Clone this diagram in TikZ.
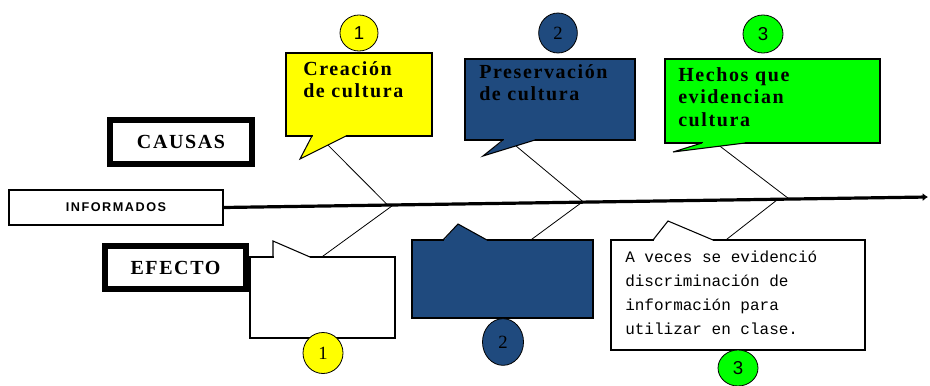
\documentclass[tikz,border=0pt]{standalone}
\usepackage{fontspec}
\setmainfont{Liberation Serif}
\setsansfont{Liberation Sans}
\setmonofont{Liberation Mono}
\usetikzlibrary{calc,positioning,shapes.geometric,arrows.meta}
\definecolor{ishYellow}{HTML}{FFFF00}
\definecolor{ishNavy}{HTML}{1F4A7E}
\definecolor{ishGreen}{HTML}{00FF00}
\newfontfamily\titlefont[LetterSpace=8]{Liberation Serif}
\newfontfamily\capsfont[LetterSpace=12]{Liberation Sans}

\begin{document}
\begin{tikzpicture}[x=0.75pt,y=-0.75pt,
  box/.style 2 args={draw,inner sep=0pt,line width=0.8pt,
            minimum width=#1*0.75pt,minimum height=#2*0.75pt},
  head/.style={line width=4.5pt,font=\titlefont\fontsize{15}{18}\selectfont\bfseries},
  ttl/.style={anchor=north west,inner sep=0pt,align=left,
            font=\titlefont\fontsize{15}{17}\selectfont\bfseries},
  num/.style={ellipse,draw,inner sep=0pt,line width=0.6pt,
            font=\sffamily\fontsize{14}{14}\selectfont},
  bone/.style={line width=0.6pt},
  tail/.style={line width=0.8pt}]
  \useasboundingbox (0,0) rectangle (930,385);

  % spine
  \node[box={214}{35},font=\capsfont\fontsize{9.5}{9.5}\selectfont\bfseries] (inf) at (116,207.5) {INFORMADOS};
  \coordinate (tip) at (928,197);
  \draw[line width=2.4pt,-{Latex[length=4pt,width=6pt]}] (inf.east) -- (tip);
  \coordinate (ju1) at ($(inf.east)!0.233!(tip)$);
  \coordinate (jl1) at ($(inf.east)!0.241!(tip)$);
  \coordinate (ju2) at ($(inf.east)!0.511!(tip)$);
  \coordinate (jl2) at ($(inf.east)!0.509!(tip)$);
  \coordinate (ju3) at ($(inf.east)!0.803!(tip)$);
  \coordinate (jl3) at ($(inf.east)!0.787!(tip)$);

  % titles
  \node[box={142}{44},head] (causas) at (181,142) {CAUSAS};
  \node[box={141}{43},head] (efecto) at (175.5,267.5) {EFECTO};

  % causes (top)
  \node[box={146}{83},fill=ishYellow] (c1) at (359,94.5) {};
  \node[box={170}{81},fill=ishNavy] (c2) at (550,99.5) {};
  \node[box={215}{84},fill=ishGreen] (c3) at (772.5,101) {};
  % effects (bottom)
  \node[box={145}{81},fill=white] (e1) at (322.5,297.5) {};
  \node[box={181}{78},fill=ishNavy] (e2) at (502.5,279) {};
  \node[box={254}{110},fill=white] (e3) at (738,295) {};

  % bones
  \draw[bone] ($(c1.south west)+(34,0)$) -- (ju1);
  \draw[bone] ($(c2.south west)+(45,0)$) -- (ju2);
  \draw[bone] ($(c3.south west)+(52,0)$) -- (ju3);
  \draw[bone] (jl1) -- ($(e1.north west)+(73,0)$);
  \draw[bone] (jl2) -- ($(e2.north west)+(120,0)$);
  \draw[bone] (jl3) -- ($(e3.north west)+(116,0)$);

  % callout tails
  \fill[ishYellow] (313,134) -- (313,136) -- (300,159) -- (346,136) -- (345,134) -- cycle;
  \draw[tail] (312,136) -- (300,159) -- (346,136);
  \fill[ishNavy] (504,138) -- (504,140) -- (483,156) -- (535,140) -- (534,138) -- cycle;
  \draw[tail] (503,140) -- (483,156) -- (535,140);
  \fill[ishGreen] (703,141) -- (703,143) -- (673,152) -- (745,143) -- (744,141) -- cycle;
  \draw[tail] (702,143) -- (673,152) -- (745,143);
  \fill[white] (274,259) -- (274,257) -- (273,241) -- (310,257) -- (309,259) -- cycle;
  \draw[tail] (273,257) -- (273,241) -- (310,257);
  \fill[ishNavy] (444,242) -- (444,240) -- (458,224) -- (487,240) -- (486,242) -- cycle;
  \draw[tail] (443,240) -- (458,224) -- (487,240);
  \fill[white] (654,242) -- (654,240) -- (668,221) -- (713,240) -- (712,242) -- cycle;
  \draw[tail] (653,240) -- (668,221) -- (713,240);

  % texts
  \node[ttl] (t1) at (303,61) {Creación\\de cultura};
  \node[ttl] (t2) at (479,64) {Preservación\\de cultura};
  \node[ttl] (t3) at (678,67) {Hechos que\\evidencian\\cultura};
  \node[anchor=north west,inner sep=0pt,align=left,
        font=\ttfamily\fontsize{12}{18}\selectfont] (t6) at (625,251)
        {A veces se evidenció\\discriminación de\\información para\\utilizar en clase.};

  % numbers
  \node[num,fill=ishYellow,minimum width=28.5pt,minimum height=27pt] (n1) at (359,33) {1};
  \node[num,fill=ishNavy,minimum width=29pt,minimum height=30pt,font=\fontsize{14}{14}\selectfont] (n2) at (558,33) {2};
  \node[num,fill=ishGreen,minimum width=30pt,minimum height=28.5pt] (n3) at (763,34) {3};
  \node[num,fill=ishYellow,minimum width=30pt,minimum height=30.75pt,font=\fontsize{14}{14}\selectfont] (m1) at (323,353) {1};
  \node[num,fill=ishNavy,minimum width=30.75pt,minimum height=35pt,font=\fontsize{14}{14}\selectfont] (m2) at (503,342) {2};
  \node[num,fill=ishGreen,minimum width=30pt,minimum height=27pt] (m3) at (738,368) {3};
\end{tikzpicture}
\end{document}
